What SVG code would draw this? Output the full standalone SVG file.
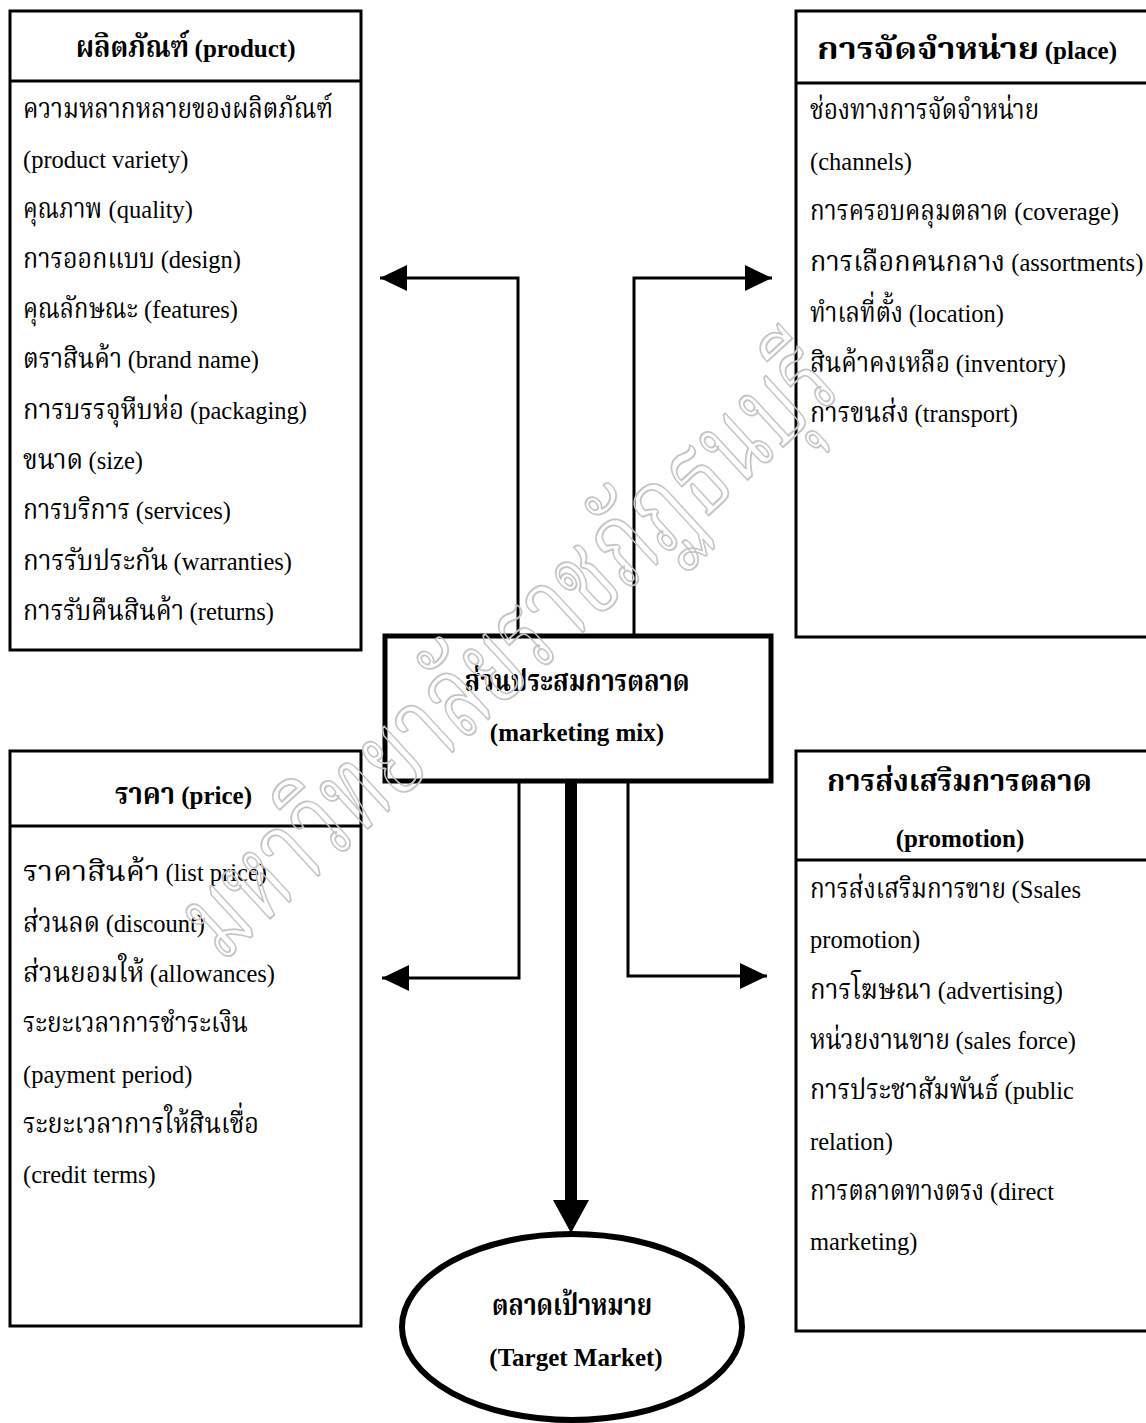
<svg xmlns="http://www.w3.org/2000/svg" width="1146" height="1423" viewBox="0 0 1146 1423">
<defs>
<style>
.box{fill:#fff;stroke:#000;stroke-width:3}
.div{stroke:#000;stroke-width:3}
text{font-family:"Liberation Serif","Noto Serif Thai","Noto Sans Thai",serif;fill:#000}
.th{font-size:20px}
.la{font-size:24.5px}
.hth{font-size:22px;font-weight:bold}
.hla{font-size:25px;font-weight:bold}
.mid{text-anchor:middle}
.ln{fill:none;stroke:#000;stroke-width:3}
text.wm{font-size:116px;fill:none;stroke:#c4c4c4;stroke-width:2}
</style>
<marker id="ah" markerUnits="userSpaceOnUse" markerWidth="28" markerHeight="28" refX="27" refY="13" orient="auto">
<path d="M0,0 L27,13 L0,26 Z" fill="#000"/>
</marker>
</defs>
<rect width="1146" height="1423" fill="#fff"/>

<g id="product">
<rect class="box" x="10" y="11" width="351" height="639"/>
<line class="div" x1="10" y1="81" x2="361" y2="81"/>
<text class="hth" transform="scale(1,1.4)" x="76" y="40.71" textLength="113" lengthAdjust="spacingAndGlyphs">ผลิตภัณฑ์</text>
<text class="hla" x="194.6" y="57">(product)</text>
<g transform="scale(1,1.45)">
<text class="th" x="23" y="81.38" textLength="310" lengthAdjust="spacingAndGlyphs">ความหลากหลายของผลิตภัณฑ์</text>
<text class="th" x="23" y="150.34" textLength="79" lengthAdjust="spacingAndGlyphs">คุณภาพ</text>
<text class="th" x="23" y="184.83" textLength="132" lengthAdjust="spacingAndGlyphs">การออกแบบ</text>
<text class="th" x="23" y="219.31" textLength="115" lengthAdjust="spacingAndGlyphs">คุณลักษณะ</text>
<text class="th" x="23" y="253.79" textLength="99" lengthAdjust="spacingAndGlyphs">ตราสินค้า</text>
<text class="th" x="23" y="288.97" textLength="161" lengthAdjust="spacingAndGlyphs">การบรรจุหีบห่อ</text>
<text class="th" x="23" y="323.45" textLength="60" lengthAdjust="spacingAndGlyphs">ขนาด</text>
<text class="th" x="23" y="357.93" textLength="107" lengthAdjust="spacingAndGlyphs">การบริการ</text>
<text class="th" x="23" y="393.10" textLength="145" lengthAdjust="spacingAndGlyphs">การรับประกัน</text>
<text class="th" x="23" y="427.59" textLength="161" lengthAdjust="spacingAndGlyphs">การรับคืนสินค้า</text>
</g>
<text class="la" x="23" y="168">(product variety)</text>
<text class="la" x="108.6" y="218">(quality)</text>
<text class="la" x="160.7" y="268">(design)</text>
<text class="la" x="144.1" y="318">(features)</text>
<text class="la" x="127.7" y="368">(brand name)</text>
<text class="la" x="190" y="419">(packaging)</text>
<text class="la" x="88.6" y="469">(size)</text>
<text class="la" x="135.8" y="519">(services)</text>
<text class="la" x="173.6" y="570">(warranties)</text>
<text class="la" x="189.6" y="620">(returns)</text>
</g>

<g id="place">
<rect class="box" x="796" y="11" width="360" height="626"/>
<line class="div" x1="796" y1="83" x2="1146" y2="83"/>
<text class="hth" transform="scale(1,1.4)" x="817" y="42.14" textLength="222" lengthAdjust="spacingAndGlyphs">การจัดจำหน่าย</text>
<text class="hla" x="1044.8" y="59">(place)</text>
<g transform="scale(1,1.45)">
<text class="th" x="810" y="82.07" textLength="229" lengthAdjust="spacingAndGlyphs">ช่องทางการจัดจำหน่าย</text>
<text class="th" x="810" y="151.72" textLength="198" lengthAdjust="spacingAndGlyphs">การครอบคลุมตลาด</text>
<text class="th" x="810" y="186.90" textLength="195" lengthAdjust="spacingAndGlyphs">การเลือกคนกลาง</text>
<text class="th" x="810" y="222.07" textLength="93" lengthAdjust="spacingAndGlyphs">ทำเลที่ตั้ง</text>
<text class="th" x="810" y="256.55" textLength="140" lengthAdjust="spacingAndGlyphs">สินค้าคงเหลือ</text>
<text class="th" x="810" y="291.03" textLength="99" lengthAdjust="spacingAndGlyphs">การขนส่ง</text>
</g>
<text class="la" x="810" y="170">(channels)</text>
<text class="la" x="1014.3" y="220">(coverage)</text>
<text class="la" x="1011.3" y="271">(assortments)</text>
<text class="la" x="908.7" y="322">(location)</text>
<text class="la" x="955.8" y="372">(inventory)</text>
<text class="la" x="914.6" y="422">(transport)</text>
</g>

<g id="price">
<rect class="box" x="10" y="751" width="351" height="575"/>
<line class="div" x1="10" y1="826" x2="361" y2="826"/>
<text class="hth" transform="scale(1,1.4)" x="115" y="574.29" textLength="60" lengthAdjust="spacingAndGlyphs">ราคา</text>
<text class="hla" x="181.2" y="804">(price)</text>
<g transform="scale(1,1.45)">
<text class="th" x="23" y="607.59" textLength="137" lengthAdjust="spacingAndGlyphs">ราคาสินค้า</text>
<text class="th" x="23" y="642.76" textLength="77" lengthAdjust="spacingAndGlyphs">ส่วนลด</text>
<text class="th" x="23" y="677.24" textLength="121" lengthAdjust="spacingAndGlyphs">ส่วนยอมให้</text>
<text class="th" x="23" y="711.72" textLength="225" lengthAdjust="spacingAndGlyphs">ระยะเวลาการชำระเงิน</text>
<text class="th" x="23" y="781.38" textLength="236" lengthAdjust="spacingAndGlyphs">ระยะเวลาการให้สินเชื่อ</text>
</g>
<text class="la" x="165.6" y="881">(list price)</text>
<text class="la" x="105.7" y="932">(discount)</text>
<text class="la" x="149.8" y="982">(allowances)</text>
<text class="la" x="23" y="1083">(payment period)</text>
<text class="la" x="23" y="1183">(credit terms)</text>
</g>

<g id="promotion">
<rect class="box" x="796" y="751" width="360" height="580"/>
<line class="div" x1="796" y1="860" x2="1146" y2="860"/>
<text class="hth" transform="scale(1,1.4)" x="827" y="565" textLength="265" lengthAdjust="spacingAndGlyphs">การส่งเสริมการตลาด</text>
<text class="hla mid" x="960" y="847">(promotion)</text>
<g transform="scale(1,1.45)">
<text class="th" x="810" y="619.31" textLength="196" lengthAdjust="spacingAndGlyphs">การส่งเสริมการขาย</text>
<text class="th" x="810" y="688.97" textLength="122" lengthAdjust="spacingAndGlyphs">การโฆษณา</text>
<text class="th" x="810" y="723.45" textLength="140" lengthAdjust="spacingAndGlyphs">หน่วยงานขาย</text>
<text class="th" x="810" y="757.93" textLength="189" lengthAdjust="spacingAndGlyphs">การประชาสัมพันธ์</text>
<text class="th" x="810" y="827.59" textLength="174" lengthAdjust="spacingAndGlyphs">การตลาดทางตรง</text>
</g>
<text class="la" x="1011.6" y="898">(Ssales</text>
<text class="la" x="810" y="948">promotion)</text>
<text class="la" x="937.8" y="999">(advertising)</text>
<text class="la" x="955.6" y="1049">(sales force)</text>
<text class="la" x="1004.6" y="1099">(public</text>
<text class="la" x="810" y="1150">relation)</text>
<text class="la" x="990.1" y="1200">(direct</text>
<text class="la" x="810" y="1250">marketing)</text>
</g>

<g id="connectors">
<polyline class="ln" points="518,635 518,278 380,278" marker-end="url(#ah)"/>
<polyline class="ln" points="634,635 634,278 772,278" marker-end="url(#ah)"/>
<polyline class="ln" points="519,782 519,978 382,978" marker-end="url(#ah)"/>
<polyline class="ln" points="628,782 628,976 767,976" marker-end="url(#ah)"/>
<line x1="571" y1="782" x2="571" y2="1202" stroke="#000" stroke-width="12"/>
<path d="M553,1200 L589,1200 L571,1233 Z" fill="#000"/>
</g>

<g id="mix">
<rect x="385" y="636" width="386" height="145" fill="#fff" stroke="#000" stroke-width="5"/>
<text class="hth mid" transform="scale(1,1.4)" x="577" y="493.57" textLength="225" lengthAdjust="spacingAndGlyphs">ส่วนประสมการตลาด</text>
<text class="hla mid" x="577" y="741">(marketing mix)</text>
</g>

<g id="target">
<ellipse cx="572" cy="1327" rx="170" ry="93" fill="#fff" stroke="#000" stroke-width="6"/>
<text class="hth mid" transform="scale(1,1.4)" x="572" y="939.29" textLength="160" lengthAdjust="spacingAndGlyphs">ตลาดเป้าหมาย</text>
<text class="hla mid" x="576" y="1366">(Target Market)</text>
</g>

<text class="wm" transform="translate(222,963) rotate(-42.6)" textLength="846" lengthAdjust="spacingAndGlyphs">มหาวิทยาลัยราชภัฏธนบุรี</text>
</svg>
